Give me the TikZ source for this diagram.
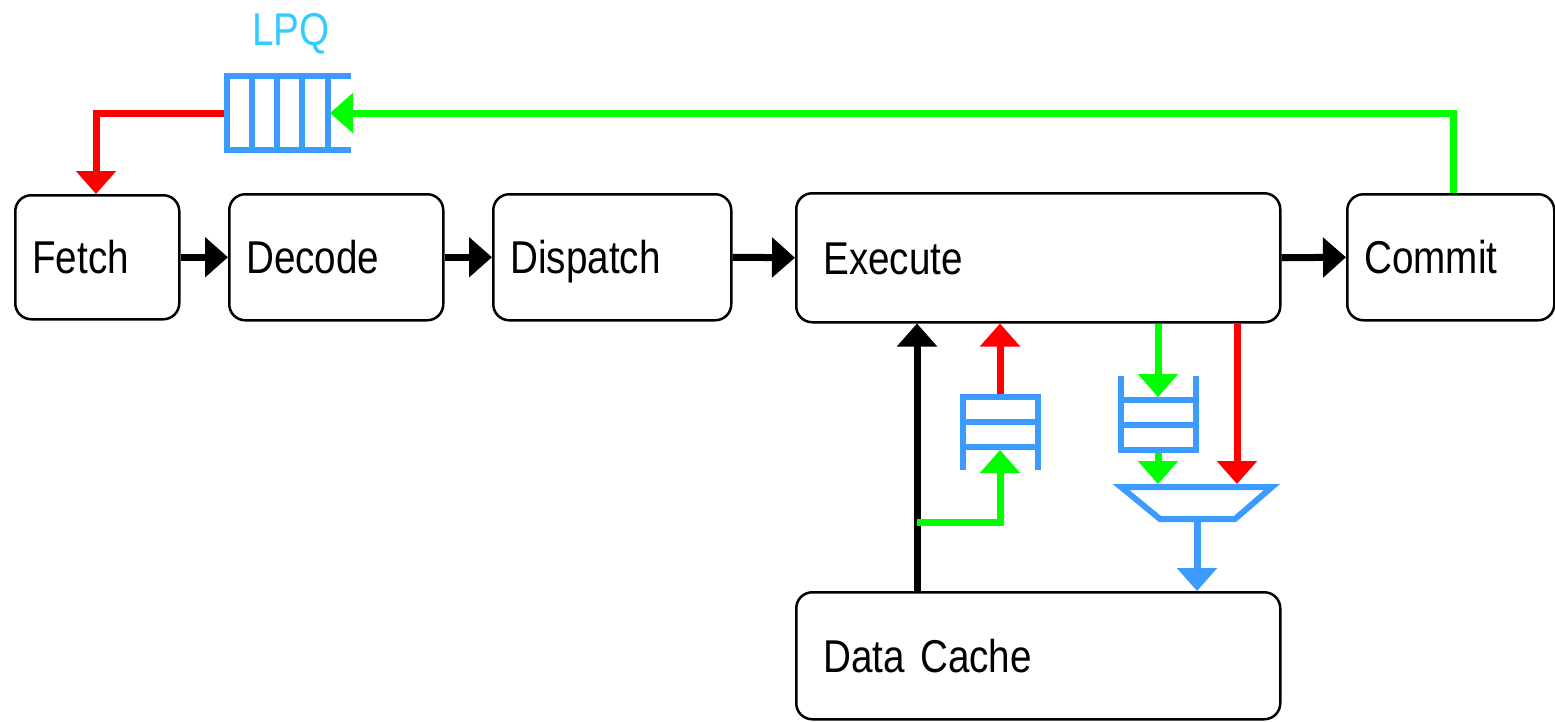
\documentclass[tikz,border=0pt]{standalone}
\usepackage{fontspec}
\newfontfamily\lblfont[FakeStretch=0.84]{Liberation Sans}
\usetikzlibrary{arrows.meta}
\definecolor{qblue}{HTML}{3C9BFF}
\definecolor{lpqcol}{HTML}{33CCFF}
\definecolor{gr}{HTML}{00FF00}
\definecolor{rd}{HTML}{FF0000}
\begin{document}
\begin{tikzpicture}[x=1pt,y=-1pt,
  box/.style={draw=black, line width=2.5, rounded corners=16, anchor=north west,
    inner ysep=0, inner xsep=17, align=left, text height=33, text depth=0,
    font=\lblfont\fontsize{46}{50}\selectfont},
  lbl/.style={inner sep=0, font=\lblfont\fontsize{46}{50}\selectfont},
  conn/.style={line width=7, -{Triangle[length=23,width=39]}},
  qline/.style={draw=qblue, line width=6}
]
\useasboundingbox (0,0) rectangle (1555,721);

% boxes
\node[box, minimum width=164, minimum height=124, text width=130] (fetch) at (14,194) {Fetch};
\node[box, minimum width=214, minimum height=126, text width=180] (decode) at (228,193) {Decode};
\node[box, minimum width=238, minimum height=126, text width=204] (dispatch) at (492,193) {Dispatch};
\node[box, minimum width=484, minimum height=129, inner xsep=27, text width=430] (execute) at (795,192) {Execute};
\node[box, minimum width=207, minimum height=126, text width=173] (commit) at (1346,193) {Commit};
\node[box, minimum width=484, minimum height=127, inner xsep=27, text width=430] (dcache) at (795,591) {Data Cache};

% LPQ queue
\node[lbl, text=lpqcol, anchor=base west] (lpqlabel) at (252,45) {LPQ};
\draw[qline] (351,76) -- (227,76) -- (227,150) -- (351,150);
\foreach \x in {252,276.5,302,328} \draw[qline] (\x,76) -- (\x,150);
\coordinate (lpqout) at (224,113);
\coordinate (lpqin) at (330,113);

% column coordinates
\coordinate (rx) at (96,0);
\coordinate (gx) at (1453,0);
\coordinate (c1) at (917,0);
\coordinate (c2) at (1000,0);
\coordinate (c3) at (1158,0);
\coordinate (c4) at (1237,0);
\coordinate (c5) at (1197,0);

% pipeline arrows
\draw[conn, black] (fetch.east) -- (decode.west);
\draw[conn, black] (decode.east) -- (dispatch.west);
\draw[conn, black] (dispatch.east) -- (execute.west);
\draw[conn, black] (execute.east) -- (commit.west);

% LPQ feedback
\draw[conn, gr] (commit.north -| gx) |- (lpqin);
\draw[conn, rd] (lpqout) -| (fetch.north -| rx);

% queue 1 (load return)
\draw[qline] (963,470) -- (963,397) -- (1038,397) -- (1038,470);
\draw[qline] (963,422) -- (1038,422);
\draw[qline] (963,447) -- (1038,447);
\coordinate (q1top) at (1000,394);
\coordinate (q1in) at (1000,450);
\coordinate (gj) at (917,522);

% queue 2 (store)
\draw[qline] (1121,376) -- (1121,450) -- (1196,450) -- (1196,376);
\draw[qline] (1121,400) -- (1196,400);
\draw[qline] (1121,425) -- (1196,425);
\coordinate (q2in) at (1158,397);
\coordinate (q2out) at (1158,453);

% mux
\draw[qline, line join=miter] (1121,487) -- (1272,487) -- (1235,519) -- (1160,519) -- cycle;
\coordinate (muxin1) at (1158,484);
\coordinate (muxin2) at (1237,484);
\coordinate (muxout) at (1197,522);

% execute / data cache connectors
\draw[conn, black] (dcache.north -| c1) -- (execute.south -| c1);
\draw[conn, gr] (gj) -| (q1in);
\draw[conn, rd] (q1top) -- (execute.south -| c2);
\draw[conn, gr] (execute.south -| c3) -- (q2in);
\draw[conn, gr] (q2out) -- (muxin1);
\draw[conn, rd] (execute.south -| c4) -- (muxin2);
\draw[conn, qblue] (muxout) -- (dcache.north -| c5);
\end{tikzpicture}
\end{document}
